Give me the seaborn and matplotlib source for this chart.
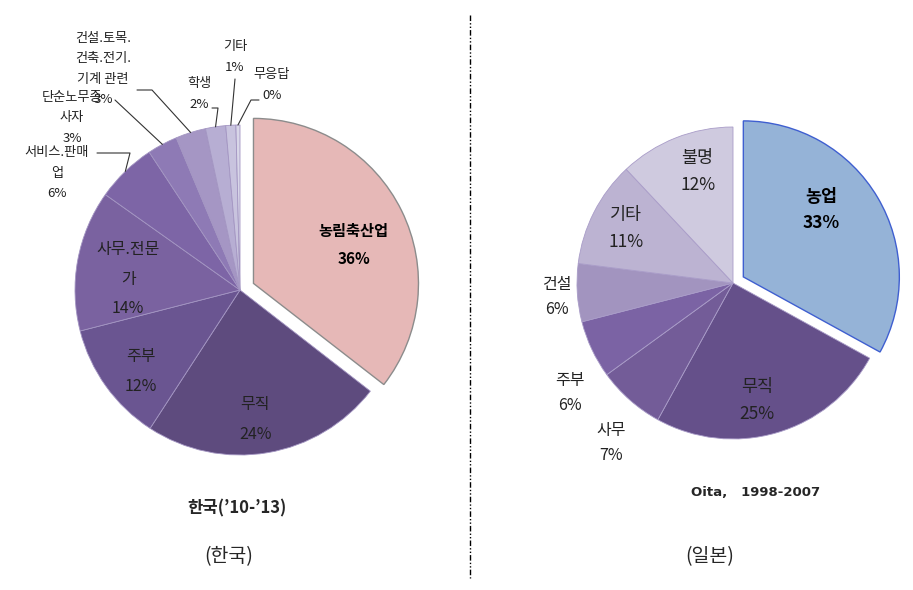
import numpy as np
import matplotlib
matplotlib.use('Agg')
import matplotlib.pyplot as plt
import seaborn as sns

# Korea ('10-'13)
kr_labels = ['농림축산업', '무직', '주부', '사무.전문\n가', '서비스.판매\n업', '단순노무종\n사자',
             '건설.토목.\n건축.전기.\n기계 관련', '학생', '기타', '무응답']
kr_values = [36, 24, 12, 14, 6, 3, 3, 2, 1, 0.4]

# Japan (Oita, 1998-2007)
jp_labels = ['농업', '무직', '사무', '주부', '건설', '기타', '불명']
jp_values = [33, 25, 7, 6, 6, 11, 12]

sns.set_style('white')
plt.rcParams['font.family'] = ['Noto Sans CJK KR', 'DejaVu Sans']

kr_colors = ['#E6B8B7', '#5E4B7E', '#6A5591', '#7A62A0', '#7D65A6', '#8E7AB5',
             '#A596C4', '#B7AED3', '#C8C3DE', '#D8D6E8']
jp_colors = ['#95B3D7', '#65508A', '#735C98', '#7B63A4', '#A294BF', '#BCB3D2', '#CFCADF']

W, H = 913, 590
fig = plt.figure(figsize=(W / 100, H / 100), dpi=100)
ax = fig.add_axes([0, 0, 1, 1])


def Y(y):
    return H - y


def wedge_point(w, frac, nudge=0.0):
    th = np.radians((w.theta1 + w.theta2) / 2 + nudge)
    cx, cy = w.center
    return cx + frac * w.r * np.cos(th), cy + frac * w.r * np.sin(th)


# ---- left pie
kr_wedges, _ = ax.pie(kr_values, colors=kr_colors, startangle=90, counterclock=False,
                      center=(240, Y(290)), radius=165, explode=[15] + [0] * 9,
                      wedgeprops=dict(edgecolor='#A395C2', linewidth=0.6))
kr_wedges[0].set_edgecolor('#8C8C8C')
kr_wedges[0].set_linewidth(1.0)

kr_inside = {0: (0.65, -5), 1: (0.79, -2.8), 2: (0.78, 3.7), 3: (0.68, 5)}
for i, (frac, nudge) in kr_inside.items():
    x, y = wedge_point(kr_wedges[i], frac, nudge)
    ax.text(x, y, f'{kr_labels[i]}\n{kr_values[i]:.0f}%', ha='center', va='center',
            fontsize=11 if i == 0 else 11.5, color='black' if i == 0 else '#222222',
            fontweight='bold' if i == 0 else 'normal', linespacing=1.95)

# outside labels: text position, leader elbow
kr_outside = {
    4: ((57, 173), [(97, 153), (130, 153)]),
    5: ((72, 118), [(115, 100)]),
    6: ((103, 69), [(137, 90), (152, 90)]),
    7: ((199, 94), [(212, 108), (218, 108)]),
    8: ((235, 57), [(235, 79)]),
    9: ((272, 85), [(259, 100), (251, 100)]),
}
for i, ((tx, ty), elbow) in kr_outside.items():
    ax.text(tx, Y(ty), f'{kr_labels[i]}\n{kr_values[i]:.0f}%', ha='center', va='center',
            fontsize=9.5, color='#222222', linespacing=1.75)
    ex, ey = wedge_point(kr_wedges[i], 1.0)
    xs = [p[0] for p in elbow] + [ex]
    ys = [Y(p[1]) for p in elbow] + [ey]
    ax.plot(xs, ys, color='#333333', lw=0.8)

# ---- right pie
jp_wedges, _ = ax.pie(jp_values, colors=jp_colors, startangle=90, counterclock=False,
                      center=(733, Y(283)), radius=156, explode=[12] + [0] * 6,
                      wedgeprops=dict(edgecolor='#A99CC8', linewidth=0.6))
jp_wedges[0].set_edgecolor('#3F5FD0')
jp_wedges[0].set_linewidth(1.0)

jp_pos = {0: (0.66, 10), 1: (0.77, -4.5), 2: (1.29, 4), 3: (1.26, 8.7),
          4: (1.13, 1), 5: (0.77, 0), 6: (0.75, -4)}
for i, (frac, nudge) in jp_pos.items():
    x, y = wedge_point(jp_wedges[i], frac, nudge)
    ax.text(x, y, f'{jp_labels[i]}\n{jp_values[i]:.0f}%', ha='center', va='center',
            fontsize=12.5 if i < 2 or i > 4 else 11.5, color='black' if i == 0 else '#222222',
            fontweight='bold' if i == 0 else 'normal', linespacing=1.6)

# captions
ax.text(237, Y(508), "한국(’10-’13)", ha='center', va='center', fontsize=12, fontweight='bold')
ax.text(756, Y(492), 'Oita,   1998-2007', ha='center', va='center', fontsize=9.5,
        fontweight='bold', family=['DejaVu Sans'])
ax.text(229, Y(557), '(한국)', ha='center', va='center', fontsize=14)
ax.text(710, Y(557), '(일본)', ha='center', va='center', fontsize=14)

# divider
ax.plot([470, 470], [Y(15), Y(578)], color='black', lw=1,
        linestyle=(0, (4, 1.5, 1, 1.5, 1, 1.5)))

ax.set_xlim(0, W)
ax.set_ylim(0, H)
ax.set_aspect('auto')
ax.axis('off')

plt.savefig('out.png', dpi=100)
